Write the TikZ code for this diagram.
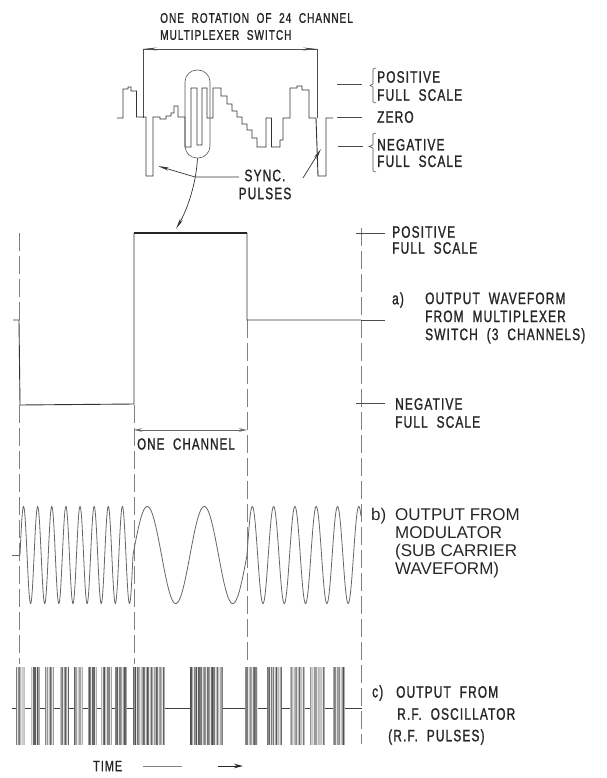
\documentclass[tikz,border=0pt]{standalone}
\usepackage{fontspec}
\newfontfamily\lett[FakeStretch=0.72,LetterSpace=7,FakeBold=1.2,WordSpace=2]{Liberation Sans}
\newfontfamily\clean{Liberation Sans}
\usetikzlibrary{arrows.meta}
\tikzset{
  wave/.style={line width=0.9pt, black!80, line join=miter},
  subw/.style={line width=0.8pt, black!60},
  guide/.style={line width=0.55pt, black!50, dash pattern=on 18pt off 5pt},
  tickl/.style={line width=0.6pt, black!70},
  ptr/.style={line width=0.7pt, black!80},
  tipa/.style={-{Stealth[length=11pt,width=3.2pt]}},
  lbl/.style={font=\lett\fontsize{16.5}{18}\selectfont, text=black!85, anchor=west, inner sep=0pt, align=left},
  lblc/.style={font=\clean\fontsize{17}{18}\selectfont, text=black!85, anchor=west, inner sep=0pt, align=left},
}
\begin{document}
\begin{tikzpicture}[x=1pt,y=-1pt]
\useasboundingbox (0,0) rectangle (606,778);

% ---------- top: one rotation of the multiplexer switch ----------
\node[lbl, font=\lett\fontsize{14}{17}\selectfont] (title) at (160,26.5) {ONE ROTATION OF 24 CHANNEL\\MULTIPLEXER SWITCH};
\coordinate (bl) at (143,118);
\coordinate (blt) at (143,49);
\coordinate (brt) at (317,49);
\coordinate (br) at (317,118);
\draw[tickl] (bl) -- (blt) -- (brt) -- (br);
\draw[tickl, -{Stealth[length=14pt,width=3pt]}] (166,49) -- (blt);
\draw[tickl, -{Stealth[length=14pt,width=3pt]}] (294,49) -- (brt);

\draw[wave] (117,118) -- (123,118) -- (123,89) -- (128,89) -- (128,87) -- (131,87) -- (131,91)
  -- (136.5,91) -- (136.5,117) -- (146,117) -- (146,176) -- (153,176) -- (153,117)
  -- (160,117) -- (160,119) -- (166,119) -- (166,116) -- (171,116) -- (171,113) -- (174,113)
  -- (174,106) -- (178,106) -- (178,117) -- (185,117) -- (185,147) -- (191,147) -- (191,88)
  -- (197,88) -- (197,145) -- (202,145) -- (202,88) -- (207,88) -- (207,118) -- (213,118)
  -- (213,88) -- (221,88) -- (221,96) -- (227,96) -- (227,104) -- (232,104) -- (232,111)
  -- (237,111) -- (237,117) -- (242,117) -- (242,124) -- (247,124) -- (247,130) -- (252,130)
  -- (252,138) -- (257,138) -- (257,147) -- (266,147) -- (266,118) -- (271.5,118) -- (271.5,147)
  -- (280,147) -- (280,140) -- (283,140) -- (283,118) -- (290,118) -- (290,88) -- (297,88)
  -- (297,86) -- (302,86) -- (302,90) -- (309,90) -- (309,118) -- (316,118) -- (318,176)
  -- (326,176) -- (326,118) -- (333,118);

\node[draw, line width=0.6pt, black!65, rounded corners=12pt, minimum width=25pt, minimum height=88pt, inner sep=0pt] (oval) at (197.5,114) {};

% scale marks, top right
\draw[tickl] (337,84) -- (362,84);
\draw[tickl] (337,117) -- (362,117);
\draw[tickl] (338,146) -- (363,146);
\draw[tickl] (376,68) -- (373,69) -- (373,84) -- (370,85.5) -- (373,87) -- (373,102) -- (376,103);
\draw[tickl] (376,133) -- (373,134) -- (373,145) -- (369,146.5) -- (373,148) -- (373,171) -- (376,172);
\node[lbl] (tpos) at (377,86) {POSITIVE\\FULL SCALE};
\node[lbl] (tzero) at (377,117) {ZERO};
\node[lbl, font=\lett\fontsize{16.5}{16.5}\selectfont] (tneg) at (377,153) {NEGATIVE\\FULL SCALE};

% sync pulses label and pointers
\node[lbl, anchor=center, align=center] (sync) at (265,184.5) {SYNC.\\PULSES};
\coordinate (sjoin) at (195,177);
\coordinate (sleft) at (158,166);
\coordinate (sright) at (321,149);
\coordinate (ptop) at (176,229);
\draw[ptr, tipa] (239,177) -- (sjoin) -- (sleft);
\draw[ptr, tipa] (oval.south) .. controls (196,185) and (187,210) .. (ptop);
\draw[ptr, tipa] (303,178) -- (sright);

% ---------- a) output waveform ----------
\draw[guide] (19,233) -- (19,320);
\draw[guide] (19,405) -- (19,664);
\draw[guide] (134,405) -- (134,664);
\draw[guide] (247,320) -- (247,664);
\draw[guide] (361,228) -- (361,744);

\draw[wave] (13,320) -- (19,320) -- (20,405) -- (134,404) -- (134,233) -- (247,233) -- (247,320) -- (361,320);
\draw[line width=1.6pt, black!85] (134,233) -- (247,233);
\draw[tickl] (361,320) -- (385,320);
\draw[tickl] (356,233) -- (385,233);
\draw[tickl] (356,403) -- (385,403);

\node[lbl, font=\lett\fontsize{16.5}{16}\selectfont] (apos) at (392,240) {POSITIVE\\FULL SCALE};
\node[lbl] (alab) at (392,300) {a)};
\node[lbl] (atext) at (425,318) {OUTPUT WAVEFORM\\FROM MULTIPLEXER\\SWITCH (3 CHANNELS)};
\node[lbl] (aneg) at (395,413) {NEGATIVE\\FULL SCALE};

% one channel
\coordinate (ocl) at (134,430);
\coordinate (ocr) at (247,430);
\draw[line width=0.5pt, black!60, {Stealth[length=8pt,width=3.5pt]}-{Stealth[length=8pt,width=3.5pt]}] (ocl) -- (ocr);
\node[lbl, font=\lett\fontsize{16}{18}\selectfont] (onech) at (137,444) {ONE CHANNEL};

% ---------- b) sub carrier ----------
\draw[subw] (12,555) -- (20,555);
\draw[subw] plot[domain=20:133, samples=360] (\x, {555 - 48.5*sin(25.4867*(\x-20))});
\draw[subw] plot[domain=133:247, samples=200] (\x, {555 - 48.5*sin(6.31579*(\x-133))});
\draw[subw] plot[domain=247:361, samples=300] (\x, {555 - 48.5*sin(16.9014*(\x-247))});
\node[lblc] (blab) at (371,516) {b)};
\node[lblc] (btext) at (395,543) {OUTPUT FROM\\MODULATOR\\(SUB CARRIER\\WAVEFORM)};

% ---------- c) RF pulses ----------
\draw[line width=0.8pt, black!75] (12,708) -- (362,708);
\pgfmathsetseed{11}
\foreach \a/\b in {16.7/25, 31.7/40, 45/53, 60/68, 74/82.7, 88/97, 101.7/111.7, 115/127,
                   133/165, 190/223, 245/258, 267/282, 290/305, 310/325, 333/345} {
  \fill[black!10] (\a,667) rectangle (\b,745);
  \pgfmathsetmacro\nn{int((\b-\a)/1.3)}
  \foreach \k in {0,...,\nn} {
    \pgfmathsetmacro\xx{\a+\k*1.3}
    \pgfmathrandominteger{\g}{18}{70}
    \draw[black!\g, line width=0.5pt] (\xx,667) -- (\xx,745);
  }
}
\node[lbl] (clab) at (372,693) {c)};
\node[lbl] (c1) at (396,692) {OUTPUT FROM};
\node[lbl] (c2) at (397,714) {R.F. OSCILLATOR};
\node[lbl] (c3) at (388,737) {(R.F. PULSES)};

% time
\node[lbl, font=\lett\fontsize{15}{18}\selectfont] (time) at (93,766) {TIME};
\coordinate (t1) at (143,766);
\coordinate (t2) at (182,766);
\coordinate (t3) at (218,766);
\coordinate (t4) at (243,766);
\draw[line width=0.5pt, black!50] (t1) -- (t2);
\draw[line width=1pt, black!85, -{Stealth[length=9pt,width=4.5pt]}] (t3) -- (t4);
\end{tikzpicture}
\end{document}
